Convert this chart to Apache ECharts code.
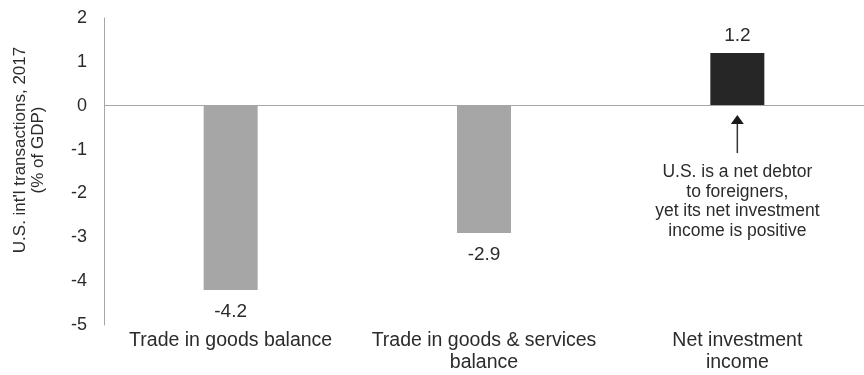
<!DOCTYPE html>
<html>
<head>
<meta charset="utf-8">
<script src="https://cdn.jsdelivr.net/npm/echarts@6/dist/echarts.min.js"></script>
<style>
  html, body { margin: 0; padding: 0; background: #ffffff; }
  #chart { width: 864px; height: 375px; }
</style>
</head>
<body>
<div id="chart"></div>
<script>
// U.S. international transactions in 2017, as a share of GDP
const categories = ['Trade in goods balance', 'Trade in goods & services\nbalance', 'Net investment\nincome'];
const values = [-4.2, -2.9, 1.2];
const barColors = ['#a6a6a6', '#a6a6a6', '#262626'];
const yMin = -5;
const yMax = 2;
const yStep = 1;
const axisTitle = ["U.S. int'l transactions, 2017", '(% of GDP)'];
const noteLines = ['U.S. is a net debtor', 'to foreigners,', 'yet its net investment', 'income is positive'];
// arrow under the net investment income bar (value units)
const arrowTail = -1.08;
const arrowTip = -0.21;
const noteTop = -1.3;

const FONT = '"Liberation Sans", Arial, sans-serif';
const TEXT = '#2b2b2b';
const AXIS = '#a6a6a6';

const chart = echarts.init(document.getElementById('chart'), null, { renderer: 'canvas' });

const barData = values.map((v, i) => ({
  value: v,
  itemStyle: { color: barColors[i] },
  label: {
    position: v >= 0 ? 'top' : 'bottom',
    distance: v >= 0 ? 8 : 12
  }
}));

const option = {
  animation: false,
  backgroundColor: '#ffffff',
  textStyle: { fontFamily: FONT },
  grid: { left: 104, right: 0, top: 18, bottom: 50, containLabel: false },
  xAxis: {
    type: 'category',
    data: categories,
    position: 'bottom',
    axisLine: { show: false, onZero: false },
    axisTick: { show: false },
    splitLine: { show: false },
    axisLabel: {
      interval: 0,
      margin: 5,
      color: TEXT,
      fontSize: 19.5,
      lineHeight: 22,
      fontFamily: FONT
    }
  },
  yAxis: {
    type: 'value',
    min: yMin,
    max: yMax,
    interval: yStep,
    axisLine: { show: true, lineStyle: { color: AXIS, width: 1 } },
    axisTick: { show: false },
    splitLine: { show: false },
    axisLabel: {
      margin: 17,
      color: TEXT,
      fontSize: 18,
      fontFamily: FONT
    }
  },
  series: [{
    type: 'bar',
    data: barData,
    barWidth: 54,
    label: {
      show: true,
      color: TEXT,
      fontSize: 19,
      fontFamily: FONT,
      formatter: p => p.value.toFixed(1)
    },
    markLine: {
      silent: true,
      symbol: ['none', 'none'],
      label: { show: false },
      lineStyle: { color: AXIS, width: 1, type: 'solid' },
      data: [{ yAxis: 0 }]
    }
  }]
};

chart.setOption(option);

// Annotation: arrow and note below the net investment income bar
const tail = chart.convertToPixel({ gridIndex: 0 }, [2, arrowTail]);
const tip = chart.convertToPixel({ gridIndex: 0 }, [2, arrowTip]);
const noteAt = chart.convertToPixel({ gridIndex: 0 }, [2, noteTop]);
const headH = 9, headW = 6.5;

chart.setOption({
  graphic: [
    {
      type: 'text',
      x: 29.5,
      y: 150,
      rotation: Math.PI / 2,
      style: {
        text: axisTitle.join('\n'),
        fill: TEXT,
        font: '17px ' + FONT,
        lineHeight: 18,
        textAlign: 'center',
        textVerticalAlign: 'middle'
      }
    },
    {
      type: 'line',
      shape: { x1: tail[0], y1: tail[1], x2: tip[0], y2: tip[1] + headH - 1 },
      style: { stroke: '#333333', lineWidth: 1.5 }
    },
    {
      type: 'polygon',
      shape: {
        points: [
          [tip[0], tip[1]],
          [tip[0] - headW, tip[1] + headH],
          [tip[0] + headW, tip[1] + headH]
        ]
      },
      style: { fill: '#1a1a1a' }
    },
    {
      type: 'text',
      x: noteAt[0],
      y: noteAt[1],
      style: {
        text: noteLines.join('\n'),
        fill: TEXT,
        font: '17.5px ' + FONT,
        lineHeight: 19.5,
        textAlign: 'center',
        textVerticalAlign: 'top'
      }
    }
  ]
});
</script>
</body>
</html>
